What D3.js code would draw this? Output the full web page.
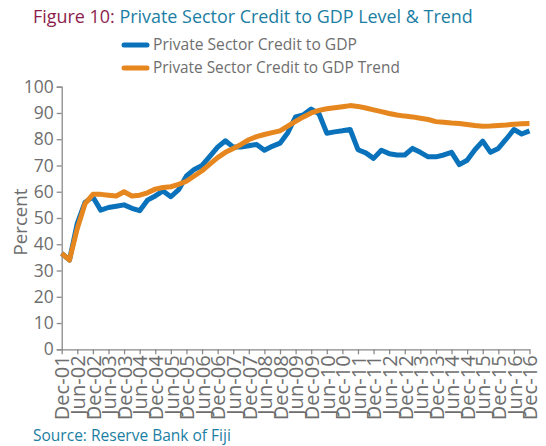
<!DOCTYPE html>
<html><head><meta charset="utf-8">
<script src="https://cdn.jsdelivr.net/npm/d3@7"></script>
<style>body{margin:0;background:#fff}svg{display:block}</style>
</head><body>
<script>
const tickLabels = ["Dec-01","Jun-02","Dec-02","Jun-03","Dec-03","Jun-04","Dec-04","Jun-05","Dec-05","Jun-06","Dec-06","Jun-07","Dec-07","Jun-08","Dec-08","Jun-09","Dec-09","Jun-10","Dec-10","Jun-11","Dec-11","Jun-12","Dec-12","Jun-13","Dec-13","Jun-14","Dec-14","Jun-15","Dec-15","Jun-16","Dec-16"];
// quarterly observations, Dec-01 .. Dec-16 (61 points)
const creditLevel = [36.5,34,48,56,58,53,54,54.5,55,53.7,52.8,56.8,58.4,60.3,58.1,60.8,66,68.5,70,73.5,77,79.4,77,77,77.5,78,75.8,77.3,78.5,82.5,88.5,89.3,91.5,89.7,82.3,82.8,83.2,83.7,76,74.8,72.7,75.8,74.5,74,74,76.5,75,73.3,73.3,74,75,70.3,72,76,79.3,75,76.5,80,83.7,82,83.2];
const creditTrend = [36.5,34,46,55.5,59,59,58.7,58.4,60,58.4,58.7,59.6,61,61.6,61.9,62.8,64,66,68,70.5,73,75,76.5,78,79.8,81,81.8,82.5,83.2,85,86.8,88.5,90,91,91.6,92,92.4,92.8,92.5,91.9,91.2,90.5,89.8,89.2,88.8,88.5,88,87.5,86.7,86.5,86.2,86,85.6,85.2,84.9,85,85.2,85.4,85.7,85.9,86];
const yTicks = [0,10,20,30,40,50,60,70,80,90,100];
const seriesNames = ["Private Sector Credit to GDP","Private Sector Credit to GDP Trend"];
const colors = ["#0a72ba","#e5861f"];

const W=546,H=446;
const FONT="'Open Sans', Lato, sans-serif";
const svg=d3.select("body").append("svg").attr("width",W).attr("height",H);

function fit(t,target){
  const n=t.node(); const fs=parseFloat(t.attr("font-size"));
  const w=n.getComputedTextLength(); if(w>0) t.attr("font-size",fs*target/w);
}

const x=d3.scaleLinear().domain([0,creditLevel.length-1]).range([61.7,529.5]);
const y=d3.scaleLinear().domain([0,100]).range([349.3,86.7]);
const axisCol="#8a8a8a", textCol="#6e6e6e";

const title=svg.append("text").attr("x",33).attr("y",23).attr("font-family",FONT).attr("font-size",17);
title.append("tspan").attr("fill","#8c1d4e").text("Figure 10: ");
title.append("tspan").attr("fill","#1b7ea3").text("Private Sector Credit to GDP Level & Trend");
fit(title,440);

seriesNames.forEach((s,i)=>{
  const ly=45+i*23;
  svg.append("line").attr("x1",124).attr("x2",147).attr("y1",ly).attr("y2",ly)
    .attr("stroke",colors[i]).attr("stroke-width",5).attr("stroke-linecap","round");
  const t=svg.append("text").attr("x",153).attr("y",ly+5).attr("font-family",FONT)
    .attr("font-size",14).attr("fill",textCol).text(s);
  fit(t,i==0?204:247);
});

const ya=svg.append("g").attr("transform","translate(61.7,0)")
  .call(d3.axisLeft(y).tickValues(yTicks).tickSize(5).tickPadding(3));
ya.select(".domain").attr("stroke",axisCol).attr("stroke-width",1.3);
ya.selectAll(".tick line").attr("stroke",axisCol).attr("stroke-width",1.3);
ya.selectAll("text").attr("font-family",FONT).attr("font-size",17).attr("fill",textCol);
const t100=ya.selectAll("text").filter(d=>d===100);
const s100=30/t100.node().getComputedTextLength()*17;
ya.selectAll("text").attr("font-size",s100);

const xt=d3.range(0,creditLevel.length,2);
const xa=svg.append("g").attr("transform","translate(0,349.3)")
  .call(d3.axisBottom(x).tickValues(xt).tickFormat((d,i)=>tickLabels[i]).tickSize(5).tickSizeOuter(0));
xa.select(".domain").attr("stroke",axisCol).attr("stroke-width",1.3);
xa.selectAll(".tick line").attr("stroke",axisCol).attr("stroke-width",1.3);
xa.selectAll("text").attr("font-family",FONT).attr("font-size",15.5).attr("fill",textCol)
  .attr("transform","rotate(-90)").attr("text-anchor","end").attr("x",-6).attr("y",0).attr("dy","0.36em");
const tx0=xa.select("text");
const sx=65/tx0.node().getComputedTextLength()*15.5;
xa.selectAll("text").attr("font-size",sx);

const pct=svg.append("text").attr("transform","translate(27,222) rotate(-90)").attr("text-anchor","middle")
  .attr("font-family",FONT).attr("font-size",17).attr("fill",textCol).text("Percent");
fit(pct,67);

const line=d3.line().x((d,i)=>x(i)).y(d=>y(d));
[creditLevel,creditTrend].forEach((s,i)=>{
  svg.append("path").datum(s).attr("d",line).attr("fill","none").attr("stroke",colors[i])
    .attr("stroke-width",5).attr("stroke-linejoin","round");
});

const src=svg.append("text").attr("x",33).attr("y",441).attr("font-family",FONT).attr("font-size",14)
  .attr("fill","#1b7ea3").text("Source: Reserve Bank of Fiji");
fit(src,198);
</script>
</body></html>
